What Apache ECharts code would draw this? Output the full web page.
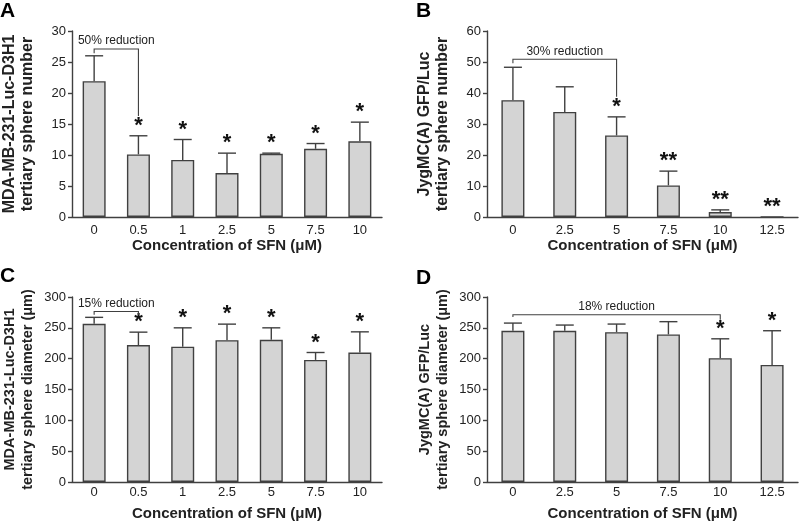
<!DOCTYPE html>
<html>
<head>
<meta charset="utf-8">
<script src="https://cdn.jsdelivr.net/npm/echarts@6/dist/echarts.min.js"></script>
<style>
  html, body { margin: 0; padding: 0; background: #fff; }
  #chart { width: 800px; height: 526px; }
</style>
</head>
<body>
<div id="chart"></div>
<script>
// categories
var catsAC = ['0', '0.5', '1', '2.5', '5', '7.5', '10'];
var catsBD = ['0', '2.5', '5', '7.5', '10', '12.5'];

// A: MDA-MB-231 sphere number
var meanA = [21.9, 10.1, 9.2, 7.1, 10.2, 11.0, 12.2];
var errA  = [26.0, 13.1, 12.5, 10.3, 10.3, 11.85, 15.3];
var starA = ['', '*', '*', '*', '*', '*', '*'];
// B: JygMC(A) sphere number
var meanB = [37.7, 33.9, 26.3, 10.2, 1.6, 0];
var errB  = [48.3, 42.0, 32.3, 14.8, 2.3, 0];
var starB = ['', '', '*', '**', '**', '**'];
// C: MDA-MB-231 sphere diameter
var meanC = [256.5, 222, 219.5, 230, 230.5, 198, 210];
var errC  = [267, 243, 250, 256, 250, 210, 243.5];
var starC = ['', '*', '*', '*', '*', '*', '*'];
// D: JygMC(A) sphere diameter
var meanD = [245.3, 245.3, 243, 239.3, 200.8, 189.9];
var errD  = [257.7, 254.5, 256.1, 260, 232.2, 245.3];
var starD = ['', '', '', '', '*', '*'];

// brackets: [fromCat, toCat, leftEnd, top, rightEnd]
var bracketA = [0, 1, 26.4, 27.1, 16.3];
var bracketB = [0, 2, 49.6, 50.9, 38.8];
var bracketC = [0, 1, 271.2, 276.6, 271.2];
var bracketD = [0, 4, 267.5, 271.2, 263];
var bracketText = ['50% reduction', '30% reduction', '15% reduction', '18% reduction'];

var yNames = [
  'MDA-MB-231-Luc-D3H1\ntertiary sphere number',
  'JygMC(A) GFP/Luc\ntertiary sphere number',
  'MDA-MB-231-Luc-D3H1\ntertiary sphere diameter (\u03bcm)',
  'JygMC(A) GFP/Luc\ntertiary sphere diameter (\u03bcm)'
];
var xName = 'Concentration of SFN (\u03bcM)';
var yMax = [30, 60, 300, 300];
var yStep = [5, 10, 50, 50];

var FONT = 'Arial, "Liberation Sans", sans-serif';
var INK = '#222';
var EDGE = '#404040';

var myChart = echarts.init(document.getElementById('chart'));

var grids = [
  { left: 69, top: 31, width: 313, height: 186 },
  { left: 487, top: 31, width: 311, height: 186 },
  { left: 69, top: 297, width: 313, height: 185 },
  { left: 487, top: 297, width: 311, height: 185 }
];

function makeX(i, cats) {
  return {
    type: 'category', gridIndex: i, data: cats,
    axisLine: { lineStyle: { color: EDGE, width: 1.4 } },
    axisTick: { length: 4, lineStyle: { color: EDGE, width: 1.4 } },
    axisLabel: { color: INK, fontSize: 13, fontFamily: FONT, margin: i < 2 ? 7 : 4 },
    name: xName, nameLocation: 'middle', nameGap: i < 2 ? 20 : 24,
    nameTextStyle: { color: INK, fontSize: 15, fontWeight: 'bold', fontFamily: FONT }
  };
}
function makeY(i) {
  return {
    type: 'value', gridIndex: i, min: 0, max: yMax[i], interval: yStep[i],
    splitLine: { show: false },
    axisLine: { show: true, lineStyle: { color: EDGE, width: 1.4 } },
    axisTick: { show: true, length: 4, lineStyle: { color: EDGE, width: 1.4 } },
    axisLabel: { color: INK, fontSize: 13, fontFamily: FONT, margin: 6 },
    name: yNames[i], nameLocation: 'middle', nameGap: 35,
    nameTextStyle: { color: INK, fontSize: i < 2 ? 16 : 14.5, fontWeight: 'bold',
      fontFamily: FONT, lineHeight: 18 }
  };
}

function barSeries(i, data) {
  return {
    type: 'bar', xAxisIndex: i, yAxisIndex: i, data: data, barWidth: 23,
    itemStyle: { color: '#d4d4d4', borderColor: EDGE, borderWidth: 1.4 },
    silent: true
  };
}

function errSeries(i, mean, err, stars) {
  var data = mean.map(function (m, k) { return [k, m, err[k]]; });
  return {
    type: 'custom', xAxisIndex: i, yAxisIndex: i, data: data, clip: false,
    encode: { x: 0, y: [1, 2] },
    renderItem: function (params, api) {
      var k = api.value(0), lo = api.value(1), hi = api.value(2);
      var p0 = api.coord([k, lo]);
      var p1 = api.coord([k, hi]);
      var kids = [];
      if (hi > lo) {
        kids.push({ type: 'line', shape: { x1: p0[0], y1: p0[1], x2: p1[0], y2: p1[1] },
          style: { stroke: EDGE, lineWidth: 1.4 } });
        kids.push({ type: 'line', shape: { x1: p1[0] - 9, y1: p1[1], x2: p1[0] + 9, y2: p1[1] },
          style: { stroke: EDGE, lineWidth: 1.4 } });
      }
      var s = stars[params.dataIndex];
      if (s) {
        kids.push({ type: 'text', style: { text: s, x: p1[0], y: p1[1] + 1, align: 'center',
          verticalAlign: 'bottom', fill: '#111', font: 'bold 22px ' + FONT } });
      }
      return { type: 'group', children: kids };
    }
  };
}

function bracketSeries(i, b, label) {
  return {
    type: 'custom', xAxisIndex: i, yAxisIndex: i, data: [b], clip: false,
    encode: { x: [0, 1], y: [2, 3, 4] },
    renderItem: function (params, api) {
      var a = api.coord([api.value(0), api.value(2)]);
      var t0 = api.coord([api.value(0), api.value(3)]);
      var t1 = api.coord([api.value(1), api.value(3)]);
      var c = api.coord([api.value(1), api.value(4)]);
      return { type: 'group', children: [
        { type: 'polyline', shape: { points: [a, t0, t1, c] },
          style: { stroke: EDGE, lineWidth: 1.1, fill: null } },
        { type: 'text', style: { text: label, x: (t0[0] + t1[0]) / 2, y: t0[1] - 2,
          align: 'center', verticalAlign: 'bottom', fill: INK, font: '12px ' + FONT } }
      ] };
    }
  };
}

var letters = [['A', 0, 1], ['B', 416, 1], ['C', 0, 266], ['D', 416, 268]];

var option = {
  animation: false,
  grid: grids,
  xAxis: [makeX(0, catsAC), makeX(1, catsBD), makeX(2, catsAC), makeX(3, catsBD)],
  yAxis: [makeY(0), makeY(1), makeY(2), makeY(3)],
  graphic: letters.map(function (l) {
    return { type: 'text', left: l[1], top: l[2],
      style: { text: l[0], fill: '#000', font: 'bold 21px ' + FONT } };
  }),
  series: [
    barSeries(0, meanA), barSeries(1, meanB), barSeries(2, meanC), barSeries(3, meanD),
    errSeries(0, meanA, errA, starA), errSeries(1, meanB, errB, starB),
    errSeries(2, meanC, errC, starC), errSeries(3, meanD, errD, starD),
    bracketSeries(0, bracketA, bracketText[0]), bracketSeries(1, bracketB, bracketText[1]),
    bracketSeries(2, bracketC, bracketText[2]), bracketSeries(3, bracketD, bracketText[3])
  ]
};

myChart.setOption(option);
</script>
</body>
</html>
